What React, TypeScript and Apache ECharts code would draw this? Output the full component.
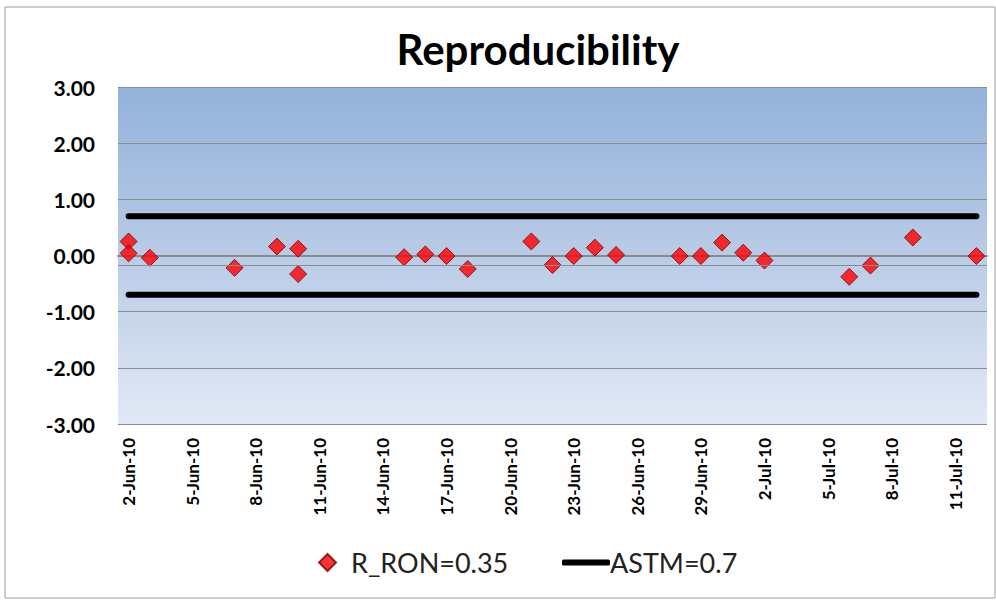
import React, { useEffect, useRef } from "react";
import * as echarts from "echarts";

const categories = [
  "2-Jun-10", "3-Jun-10", "4-Jun-10", "5-Jun-10", "6-Jun-10", "7-Jun-10", "8-Jun-10",
  "9-Jun-10", "10-Jun-10", "11-Jun-10", "12-Jun-10", "13-Jun-10", "14-Jun-10", "15-Jun-10",
  "16-Jun-10", "17-Jun-10", "18-Jun-10", "19-Jun-10", "20-Jun-10", "21-Jun-10", "22-Jun-10",
  "23-Jun-10", "24-Jun-10", "25-Jun-10", "26-Jun-10", "27-Jun-10", "28-Jun-10", "29-Jun-10",
  "30-Jun-10", "1-Jul-10", "2-Jul-10", "3-Jul-10", "4-Jul-10", "5-Jul-10", "6-Jul-10",
  "7-Jul-10", "8-Jul-10", "9-Jul-10", "10-Jul-10", "11-Jul-10", "12-Jul-10",
];

const pointDates = [
  "2-Jun-10", "2-Jun-10", "3-Jun-10", "7-Jun-10", "9-Jun-10", "10-Jun-10", "10-Jun-10",
  "15-Jun-10", "16-Jun-10", "17-Jun-10", "18-Jun-10", "21-Jun-10", "22-Jun-10", "23-Jun-10",
  "24-Jun-10", "25-Jun-10", "28-Jun-10", "29-Jun-10", "30-Jun-10", "1-Jul-10", "2-Jul-10",
  "6-Jul-10", "7-Jul-10", "9-Jul-10", "12-Jul-10",
];

const rRonValues = [
  0.25, 0.04, -0.04, -0.22, 0.16, 0.12, -0.33,
  -0.03, 0.02, -0.01, -0.24, 0.25, -0.17, -0.01,
  0.14, 0.01, -0.01, -0.01, 0.23, 0.05, -0.09,
  -0.38, -0.18, 0.32, -0.01,
];

const astmLimit = 0.7;
const axisCrossValue = -0.17;
const yTicks = { min: -3, max: 3, interval: 1 };

const seriesNames = { points: "R_RON=0.35", astm: "ASTM=0.7" };

export default function App() {
  const ref = useRef<HTMLDivElement>(null);

  useEffect(() => {
    if (!ref.current) return;
    const chart = echarts.init(ref.current, null, { renderer: "svg" });
    const font = "Lato, 'Open Sans', sans-serif";

    const upper = categories.map(() => astmLimit);
    const lower = categories.map(() => -astmLimit);

    chart.setOption({
      animation: false,
      backgroundColor: "#ffffff",
      textStyle: { fontFamily: font },
      title: {
        text: "Reproducibility",
        left: 533,
        top: 23,
        textAlign: "center",
        textStyle: { fontSize: 42, fontWeight: "bold", color: "#000", fontFamily: font },
      },
      graphic: [
        {
          type: "rect",
          shape: { x: 5, y: 7, width: 990, height: 591 },
          style: { fill: "none", stroke: "#9c9c9c", lineWidth: 1 },
          silent: true,
          z: -1,
        },
      ],
      legend: [
        {
          data: [{ name: seriesNames.points, icon: "diamond" }],
          left: 313,
          top: 544,
          itemWidth: 17,
          itemHeight: 17,
          textStyle: { fontSize: 27, color: "#222", fontFamily: font, padding: [0, 0, 0, 10] },
        },
        {
          data: [{ name: seriesNames.astm, icon: "roundRect" }],
          left: 557,
          top: 544,
          itemWidth: 48,
          itemHeight: 6,
          itemStyle: { color: "#000" },
          textStyle: { fontSize: 27, color: "#222", fontFamily: font, padding: [0, 0, 0, -5] },
        },
      ],
      grid: {
        left: 118,
        top: 87,
        right: 9,
        bottom: 176,
        show: true,
        borderWidth: 0,
        backgroundColor: {
          type: "linear",
          x: 0,
          y: 0,
          x2: 0,
          y2: 1,
          colorStops: [
            { offset: 0, color: "#93b2db" },
            { offset: 0.5, color: "#b9cbe6" },
            { offset: 1, color: "#e1e9f5" },
          ],
        },
      },
      xAxis: {
        type: "category",
        data: categories,
        boundaryGap: true,
        axisLine: { show: true, lineStyle: { color: "#8a8a8a", width: 2 } },
        axisTick: { show: false },
        splitLine: { show: false },
        axisLabel: {
          interval: 2,
          rotate: 90,
          margin: 14,
          color: "#000",
          fontSize: 17,
          fontWeight: "bold",
          fontFamily: font,
        },
      },
      yAxis: {
        type: "value",
        min: yTicks.min,
        max: yTicks.max,
        interval: yTicks.interval,
        axisLine: { show: false },
        axisTick: { show: false },
        splitLine: { show: true, lineStyle: { color: "#8c8c8c", width: 1 } },
        axisLabel: {
          formatter: (v: number) => v.toFixed(2),
          color: "#000",
          fontSize: 21,
          fontWeight: "bold",
          margin: 23,
          fontFamily: font,
        },
      },
      series: [
        {
          name: seriesNames.astm,
          type: "line",
          data: upper,
          symbol: "none",
          lineStyle: { color: "#000", width: 6, cap: "round" },
          itemStyle: { color: "#000" },
          z: 2,
        },
        {
          name: seriesNames.astm,
          type: "line",
          data: lower,
          symbol: "none",
          lineStyle: { color: "#000", width: 6, cap: "round" },
          itemStyle: { color: "#000" },
          z: 2,
        },
        {
          name: seriesNames.points,
          type: "scatter",
          data: pointDates.map((d, i) => [d, rRonValues[i]]),
          symbol: "diamond",
          symbolSize: 17,
          itemStyle: { color: "#ff0000", borderColor: "#7a0000", borderWidth: 1 },
          z: 3,
          markLine: {
            silent: true,
            symbol: "none",
            label: { show: false },
            lineStyle: { color: "#8c8c8c", width: 1, type: "solid" },
            data: [{ yAxis: axisCrossValue }],
          },
        },
      ],
    });

    return () => chart.dispose();
  }, []);

  return (
    <div
      ref={ref}
      style={{ position: "fixed", left: 0, top: 0, width: 996, height: 600 }}
    />
  );
}
